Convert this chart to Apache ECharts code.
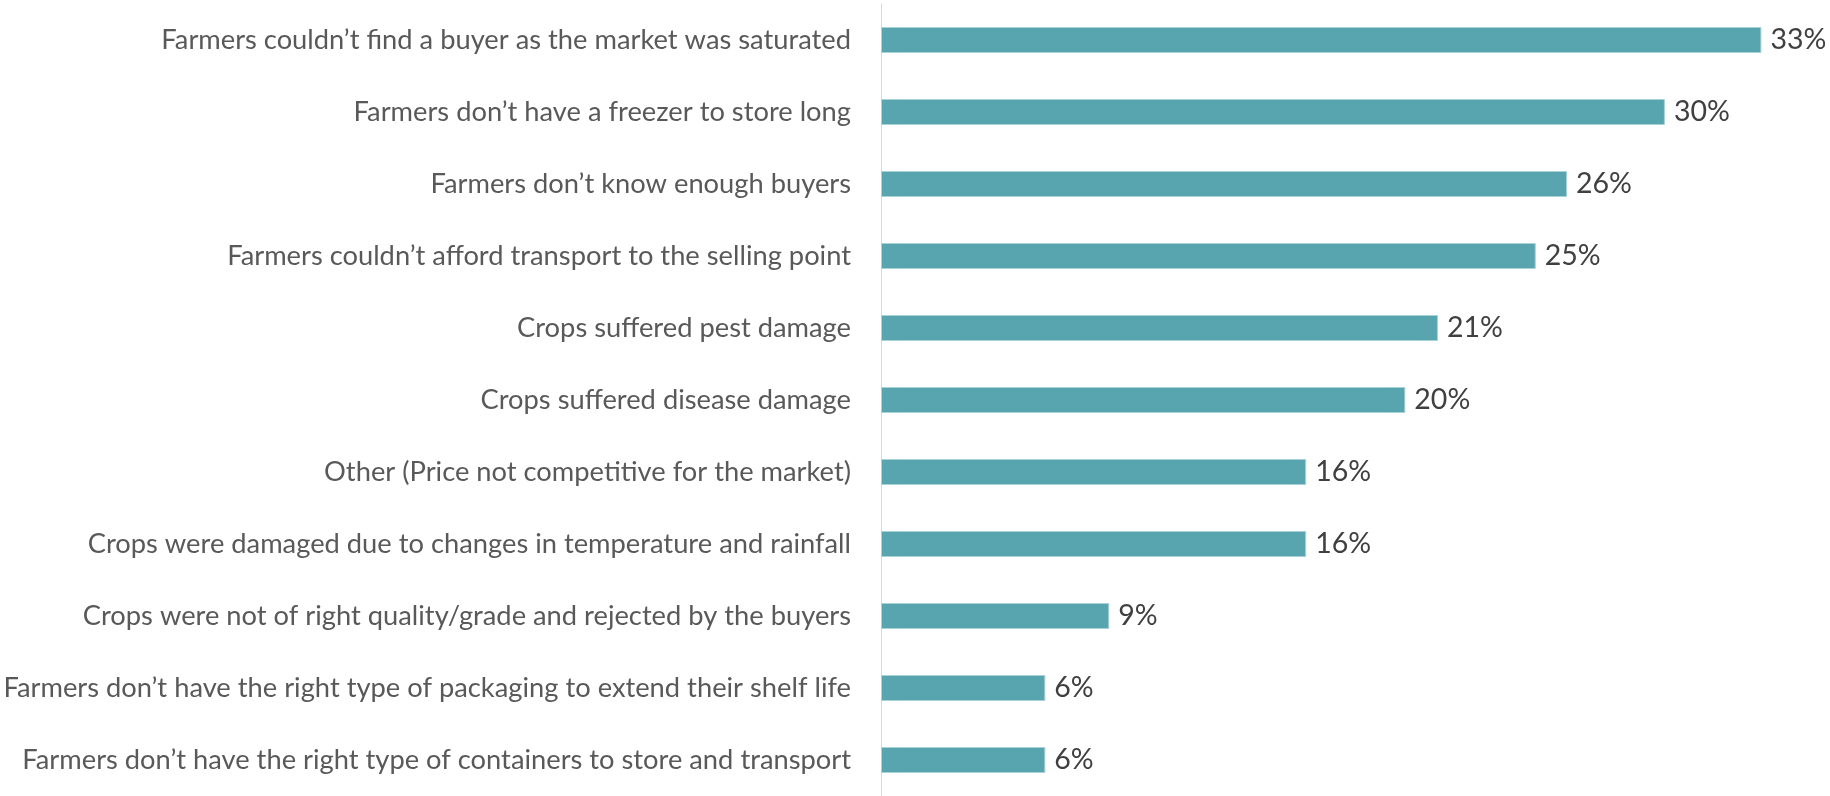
<!DOCTYPE html>
<html>
<head>
<meta charset="utf-8">
<script src="https://cdn.jsdelivr.net/npm/echarts@6/dist/echarts.min.js"></script>
<style>
  html, body { margin: 0; padding: 0; background: #fff; }
  #chart { width: 1830px; height: 796px; }
</style>
</head>
<body>
<div id="chart"></div>
<script>
var categories = [
    'Farmers couldn\u2019t find a buyer as the market was saturated',
    'Farmers don\u2019t have a freezer to store long',
    'Farmers don\u2019t know enough buyers',
    'Farmers couldn\u2019t afford transport to the selling point',
    'Crops suffered pest damage',
    'Crops suffered disease damage',
    'Other (Price not competitive for the market)',
    'Crops were damaged due to changes in temperature and rainfall',
    'Crops were not of right quality/grade and rejected by the buyers',
    'Farmers don\u2019t have the right type of packaging to extend their shelf life',
    'Farmers don\u2019t have the right type of containers to store and transport'
];
// bar lengths (%)
var values = [33.75, 30.05, 26.3, 25.1, 21.35, 20.1, 16.3, 16.3, 8.75, 6.3, 6.3];
// printed data labels (%)
var pctLabels = [33, 30, 26, 25, 21, 20, 16, 16, 9, 6, 6];

var myChart = echarts.init(document.getElementById('chart'));

var option = {
    animation: false,
    grid: {
        left: 881,
        right: 36,
        top: 4,
        bottom: 0
    },
    xAxis: {
        type: 'value',
        min: 0,
        max: 35,
        show: false
    },
    yAxis: {
        type: 'category',
        data: categories,
        inverse: true,
        axisLine: { lineStyle: { color: '#d9d9d9', width: 1 } },
        axisTick: { show: false },
        axisLabel: {
            margin: 30,
            color: '#595959',
            fontFamily: 'Lato',
            fontSize: 27.3
        }
    },
    series: [{
        type: 'bar',
        data: values,
        barWidth: 26,
        itemStyle: {
            color: '#58a4af',
            borderColor: '#a9d2d8',
            borderWidth: 1
        },
        label: {
            show: true,
            position: 'right',
            distance: 9,
            color: '#404040',
            fontFamily: 'Lato',
            fontSize: 28.5,
            formatter: function (p) {
                return pctLabels[p.dataIndex] + '%';
            }
        }
    }]
};

myChart.setOption(option);
</script>
</body>
</html>
